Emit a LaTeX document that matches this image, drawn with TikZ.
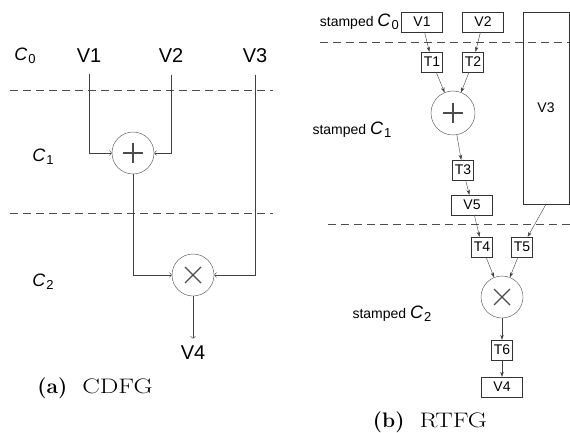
\documentclass[tikz,border=0pt]{standalone}
\usepackage{fontspec}
\setsansfont{Liberation Sans}
\usepackage{graphicx}
\usepackage{tikz}
\usetikzlibrary{arrows.meta}

\newcommand{\cstep}[1]{{\fontsize{18}{18}\selectfont\textit{C}}\kern1pt\raisebox{-3pt}{\fontsize{13}{13}\selectfont #1}}

\tikzset{
  op/.style={circle,draw=black!70,minimum size=42pt,inner sep=0pt},
  plusop/.style={op,path picture={
    \draw[line width=1.1pt] ([xshift=-10pt]path picture bounding box.center) -- ([xshift=10pt]path picture bounding box.center)
      ([yshift=-10pt]path picture bounding box.center) -- ([yshift=10pt]path picture bounding box.center);}},
  timesop/.style={op,path picture={
    \draw[line width=1.1pt] ([shift={(-8pt,-8pt)}]path picture bounding box.center) -- ([shift={(8pt,8pt)}]path picture bounding box.center)
      ([shift={(-8pt,8pt)}]path picture bounding box.center) -- ([shift={(8pt,-8pt)}]path picture bounding box.center);}},
  lab/.style={font=\sffamily\fontsize{20}{20}\selectfont},
  stamp/.style={font=\sffamily\fontsize{14}{14}\selectfont,inner sep=0pt},
  reg/.style={draw=black!80,minimum width=41pt,minimum height=20pt,inner sep=0pt,font=\sffamily\fontsize{14}{14}\selectfont},
  tmp/.style={draw=black!80,minimum width=21pt,minimum height=20pt,inner sep=0pt,font=\sffamily\fontsize{14}{14}\selectfont},
  sep/.style={black!70,dash pattern=on 8pt off 5pt},
  wire/.style={->,black!75},
  flow/.style={-{Stealth[length=5pt,width=3.5pt]},black!75},
  caption/.style={font=\fontsize{21}{21}\selectfont}
}

\begin{document}
\begin{tikzpicture}[x=1pt,y=-1pt]
\useasboundingbox (0,0) rectangle (570,433);

% (a) CDFG
\foreach \y in {90,213}
  \draw[sep] (10,\y) -- (273,\y);

\node[lab] (c0) at (25,56) {\cstep{0}};
\node[lab] (c1) at (43,157) {\cstep{1}};
\node[lab] (c2) at (43,282) {\cstep{2}};

\node[lab] (v1) at (89,56) {V1};
\node[lab] (v2) at (171,56) {V2};
\node[lab] (v3) at (255,56) {V3};
\node[lab] (v4) at (193,353) {V4};

\node[plusop] (add) at (133,153) {};
\node[timesop] (mul) at (193,275) {};

\draw[wire,shorten <=8pt] (v1.south) |- (add.west);
\draw[wire,shorten <=8pt] (v2.south) |- (add.east);
\draw[wire] (add.south) |- (mul.west);
\draw[wire,shorten <=8pt] (v3.south) |- (mul.east);
\draw[wire,shorten >=4pt] (mul.south) -- (v4.north);

\node[caption] (capa) at (95,388) {\textbf{(a)}\hspace{15pt}\scalebox{1.25}[1]{CDFG}};

% (b) RTFG
\foreach \y/\x in {42/320,224/328}
  \draw[sep] (\x,\y) -- (570,\y);

\node[stamp,anchor=east] (s0) at (399,22) {stamped \cstep{0}};
\node[stamp] (s1) at (352,130) {stamped \cstep{1}};
\node[stamp] (s2) at (392,314) {stamped \cstep{2}};

\node[reg] (r1) at (422,22) {V1};
\node[reg] (r2) at (483,22) {V2};
\node[reg,minimum width=46pt,minimum height=192pt] (r3) at (546,108) {V3};
\node[reg] (r5) at (472,205) {V5};
\node[reg] (r4) at (502,387) {V4};

\node[tmp] (t1) at (432,62) {T1};
\node[tmp] (t2) at (473,62) {T2};
\node[tmp] (t3) at (463,170) {T3};
\node[tmp] (t4) at (482,247) {T4};
\node[tmp] (t5) at (522,247) {T5};
\node[tmp] (t6) at (502,350) {T6};

\node[plusop,minimum size=44pt] (add2) at (453,113) {};
\node[timesop] (mul2) at (502,297) {};

\draw[flow] (r1) -- (t1);
\draw[flow] (r2) -- (t2);
\draw[flow] (t1) -- (add2);
\draw[flow] (t2) -- (add2);
\draw[flow] (add2) -- (t3);
\draw[flow] (t3) -- (r5);
\draw[flow] (r5) -- (t4);
\draw[flow] (r3.south) -- (t5);
\draw[flow] (t4) -- (mul2);
\draw[flow] (t5) -- (mul2);
\draw[flow] (mul2) -- (t6);
\draw[flow] (t6) -- (r4);

\node[caption] (capb) at (430,422) {\textbf{(b)}\hspace{15pt}\scalebox{1.25}[1]{RTFG}};
\end{tikzpicture}
\end{document}
